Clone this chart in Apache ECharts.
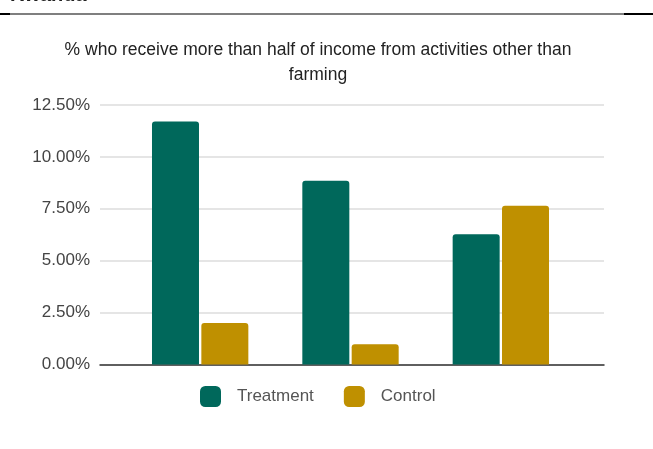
<!DOCTYPE html>
<html>
<head>
<meta charset="utf-8">
<script src="https://cdn.jsdelivr.net/npm/echarts@6/dist/echarts.min.js"></script>
<style>
  html, body { margin: 0; padding: 0; background: #ffffff; }
  #chart { width: 653px; height: 449px; }
</style>
</head>
<body>
<div id="chart"></div>
<script>
// Share of households earning more than half of income outside farming
const categories = ['Group 1', 'Group 2', 'Group 3'];
const treatment = [11.7, 8.85, 6.28];
const control = [2.0, 0.98, 7.65];
const yTicks = [0, 2.5, 5, 7.5, 10, 12.5];

const FONT = '"Liberation Sans", Arial, sans-serif';
const chart = echarts.init(document.getElementById('chart'));

chart.setOption({
  backgroundColor: '#ffffff',
  animation: false,
  title: {
    text: '% who receive more than half of income from activities other than\nfarming',
    left: 313,
    textAlign: 'center',
    top: 33,
    textStyle: { fontFamily: FONT, fontSize: 17.5, fontWeight: 'normal', color: '#222222', lineHeight: 25 }
  },
  legend: {
    left: 195,
    top: 381,
    itemWidth: 21,
    itemHeight: 21,
    itemGap: 30,
    icon: 'roundRect',
    textStyle: { fontFamily: FONT, fontSize: 17, color: '#555555', padding: [0, 0, 0, 11] },
    data: ['Treatment', 'Control']
  },
  grid: [
    // frame for the value scale: gridlines and baseline
    { left: 100, right: 49, top: 105, bottom: 84.5 },
    // bars sit in a narrower band centred under the gridlines
    { left: 125, right: 77, top: 105, bottom: 84.5 }
  ],
  xAxis: [
    {
      gridIndex: 0, type: 'category', data: [''],
      axisLine: { show: true, lineStyle: { color: '#333333', width: 1.5 } },
      axisTick: { show: false }, axisLabel: { show: false }
    },
    {
      gridIndex: 1, type: 'category', data: categories,
      axisLine: { show: false }, axisTick: { show: false }, axisLabel: { show: false }
    }
  ],
  yAxis: [
    {
      gridIndex: 0, type: 'value', min: yTicks[0], max: yTicks[yTicks.length - 1], interval: 2.5,
      axisLine: { show: false }, axisTick: { show: false },
      axisLabel: {
        margin: 10, fontFamily: FONT, fontSize: 17, color: '#444444',
        formatter: v => v.toFixed(2) + '%'
      },
      splitLine: { lineStyle: { color: '#dddddd', width: 1.5 } }
    },
    {
      gridIndex: 1, type: 'value', min: yTicks[0], max: yTicks[yTicks.length - 1],
      show: false, splitLine: { show: false }
    }
  ],
  series: [
    {
      name: 'Treatment', type: 'bar', xAxisIndex: 1, yAxisIndex: 1,
      data: treatment, barWidth: 47, barGap: '5%',
      itemStyle: { color: '#00685b', borderRadius: [3, 3, 0, 0] }
    },
    {
      name: 'Control', type: 'bar', xAxisIndex: 1, yAxisIndex: 1,
      data: control, barWidth: 47,
      itemStyle: { color: '#bf9000', borderRadius: [3, 3, 0, 0] }
    }
  ],
  graphic: [
    // heading of the page section, clipped by the top edge
    {
      type: 'text', x: 10, y: 5,
      style: { text: 'Rwanda', font: 'bold 20px ' + FONT, fill: '#222222', verticalAlign: 'bottom' }
    },
    { type: 'rect', shape: { x: 0, y: 13.5, width: 653, height: 1 }, style: { fill: '#000000' } },
    { type: 'rect', shape: { x: 0, y: 13, width: 10, height: 2 }, style: { fill: '#000000' } },
    { type: 'rect', shape: { x: 624, y: 13, width: 29, height: 2 }, style: { fill: '#000000' } }
  ]
});
</script>
</body>
</html>
